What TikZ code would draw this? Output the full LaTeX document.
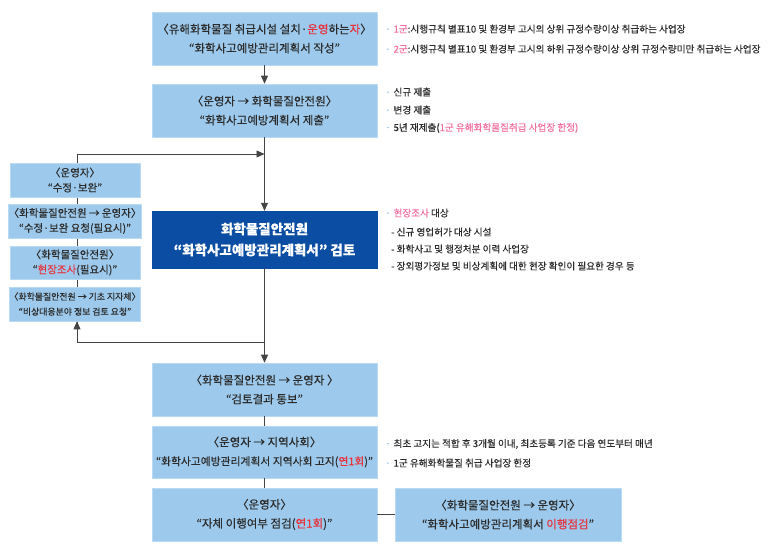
\documentclass[tikz,border=0pt]{standalone}
\usepackage{fontspec}
\setmainfont{Noto Sans CJK KR}[FakeBold=0.35]
\usetikzlibrary{arrows.meta,backgrounds}
\definecolor{boxblue}{HTML}{9DC9EC}
\definecolor{boxedge}{HTML}{B9DAF3}
\definecolor{darkblue}{HTML}{0B4DA2}
\definecolor{hred}{HTML}{E8323C}
\definecolor{hpink}{HTML}{F26F9F}
\definecolor{bul}{HTML}{7DB3E2}
\definecolor{txt}{HTML}{2B2B2B}
\definecolor{ln}{HTML}{444444}
\newcommand{\rd}[1]{\textcolor{hred}{#1}}
\newcommand{\pk}[1]{\textcolor{hpink}{#1}}
\newcommand{\bu}{\textcolor{bul}{·}\hspace{3pt}}
\tikzset{
  mainbox/.style={fill=boxblue, draw=boxedge, line width=0.6pt, minimum width=225pt, minimum height=53pt, inner sep=0pt, align=center, text=txt, font=\fontsize{11.5}{19}\selectfont},
  leftbox/.style={mainbox, minimum width=130pt, minimum height=34pt, font=\fontsize{10.5}{15}\selectfont},
  darkbox/.style={fill=darkblue, draw=darkblue, minimum width=225pt, minimum height=57pt, inner sep=0pt, align=center, text=white, font=\bfseries\fontsize{13.5}{21}\selectfont},
  note/.style={anchor=west, inner sep=0pt, text=txt, font=\fontsize{9.6}{12}\selectfont},
  conn/.style={draw=ln, line width=0.8pt},
  arr/.style={conn, -{Triangle[length=8pt,width=7pt]}}
}
\begin{document}
\begin{tikzpicture}[x=1pt,y=-1pt]
\useasboundingbox (0,0) rectangle (773,553);
% main column
\node[mainbox] (b1) at (264.5,38.5) {〈유해화학물질 취급시설 설치·\rd{운영}하는\rd{자}〉\\“화학사고예방관리계획서 작성”};
\node[mainbox] (b2) at (264.5,110.5) {〈운영자 → 화학물질안전원〉\\“화학사고예방계획서 제출”};
\node[darkbox] (dark) at (264.5,239.5) {화학물질안전원\\“화학사고예방관리계획서” 검토};
\node[mainbox] (A) at (264.5,389.5) {〈화학물질안전원 → 운영자 〉\\“검토결과 통보”};
\node[mainbox, minimum height=52pt] (B) at (264.5,452) {〈운영자 → 지역사회〉\\{\fontsize{10.8}{19}\selectfont “화학사고예방관리계획서 지역사회 고지(\rd{연1회})”}};
\node[mainbox] (C) at (264.5,514.5) {〈운영자〉\\“자체 이행여부 점검(\rd{연1회})”};
\node[mainbox, minimum width=226pt] (R) at (508,514.5) {〈화학물질안전원 → 운영자〉\\“화학사고예방관리계획서 \rd{이행점검}”};
% left column
\node[leftbox] (L1) at (75,180) {〈운영자〉\\“수정·보완”};
\node[leftbox] (L2) at (75,221) {〈화학물질안전원 → 운영자〉\\“수정·보완 요청(필요시)”};
\node[leftbox, minimum height=33pt] (L3) at (75,262.5) {〈화학물질안전원〉\\“\rd{현장조사}(필요시)”};
\node[leftbox, font=\fontsize{8.9}{15}\selectfont] (L4) at (75,304) {〈화학물질안전원 → 기초 지자체〉\\“비상대응분야 정보 검토 요청”};
% junction coordinates
\coordinate (jt) at (264.5,154);
\coordinate (jb) at (264.5,342);
\coordinate (lt) at (77,154);
\coordinate (lb) at (77,342);
% connectors
\begin{pgfonlayer}{background}
\draw[conn] (lt) -- (lb);
\end{pgfonlayer}
\draw[arr] (b1) -- (b2);
\draw[arr] (b2) -- (dark);
\draw[arr] (dark) -- (A);
\draw[conn] (A) -- (B);
\draw[conn] (B) -- (C);
\draw[conn] (C) -- (R);
\draw[arr] (lt |- L1.north) -- (lt) -- (jt);
\draw[arr] (jb) -- (lb) -- (lb |- L4.south);
% notes
\node[note] (n1a) at (385,29) {\bu\pk{1군}:시행규칙 별표10 및 환경부 고시의 상위 규정수량이상 취급하는 사업장};
\node[note] (n1b) at (385,49) {\bu\pk{2군}:시행규칙 별표10 및 환경부 고시의 하위 규정수량이상 상위 규정수량미만 취급하는 사업장};
\node[note] (n2a) at (385,92) {\bu 신규 제출};
\node[note] (n2b) at (385,110) {\bu 변경 제출};
\node[note] (n2c) at (385,128) {\bu 5년 재제출(\pk{1군 유해화학물질취급 사업장 한정)}};
\node[note] (n3a) at (385,213) {\bu\pk{현장조사} 대상};
\node[note] (n3b) at (391,232) {- 신규 영업허가 대상 시설};
\node[note] (n3c) at (391,249) {- 화학사고 및 행정처분 이력 사업장};
\node[note] (n3d) at (391,266) {- 장외평가정보 및 비상계획에 대한 현장 확인이 필요한 경우 등};
\node[note] (n4a) at (385,444) {\bu 최초 고지는 적합 후 3개월 이내, 최초등록 기준 다음 연도부터 매년};
\node[note] (n4b) at (385,463) {\bu 1군 유해화학물질 취급 사업장 한정};
\end{tikzpicture}
\end{document}
